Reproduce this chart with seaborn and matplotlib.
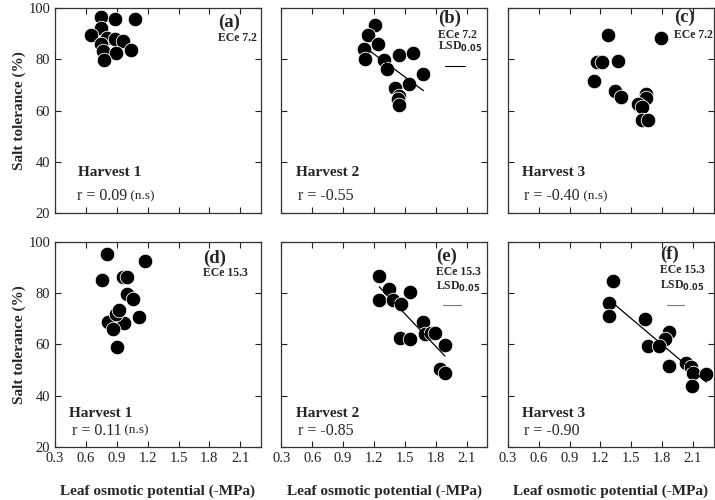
import numpy as np
import pandas as pd
import seaborn as sns
import matplotlib.pyplot as plt

# Leaf osmotic potential (-MPa) vs salt tolerance (%), per harvest and salinity
a_x = [0.75, 0.88, 1.08, 0.75, 0.65, 0.80, 0.88, 0.96, 0.75, 1.04, 0.77, 0.89, 0.78]
a_y = [96.6, 95.7, 95.6, 92.4, 89.3, 88.4, 87.8, 87.2, 86.1, 83.8, 83.1, 82.5, 79.9]

b_x = [1.21, 1.14, 1.24, 1.10, 1.11, 1.30, 1.33, 1.44, 1.58, 1.68, 1.54, 1.40, 1.44, 1.43, 1.44]
b_y = [93.3, 89.4, 86.1, 84.2, 80.3, 79.6, 76.3, 81.8, 82.6, 74.4, 70.5, 68.8, 65.9, 64.6, 62.4]

c_x = [1.27, 1.79, 1.17, 1.22, 1.37, 1.14, 1.34, 1.40, 1.64, 1.64, 1.57, 1.60, 1.60, 1.66]
c_y = [89.4, 88.5, 78.9, 78.8, 79.3, 71.5, 67.8, 65.2, 66.5, 65.0, 62.6, 61.3, 56.3, 56.3]

d_x = [0.80, 1.17, 0.76, 0.96, 1.00, 1.00, 1.06, 1.12, 0.81, 0.97, 0.86, 0.89, 0.92, 0.90]
d_y = [95.2, 92.5, 84.9, 86.2, 86.2, 79.6, 77.7, 70.6, 68.6, 68.4, 66.1, 71.6, 73.2, 59.1]

e_x = [1.25, 1.35, 1.55, 1.25, 1.38, 1.46, 1.68, 1.70, 1.75, 1.79, 1.45, 1.55, 1.89, 1.84, 1.89]
e_y = [86.7, 81.5, 80.2, 77.4, 77.4, 75.7, 68.6, 64.1, 64.5, 64.5, 62.6, 61.9, 59.7, 50.3, 48.7]

f_x = [1.32, 1.28, 1.28, 1.63, 1.87, 1.83, 1.66, 1.77, 1.87, 2.03, 2.08, 2.10, 2.23, 2.09]
f_y = [84.5, 75.9, 71.2, 69.9, 64.9, 61.9, 59.3, 59.3, 51.6, 52.6, 51.0, 49.0, 48.6, 43.7]

panel_tags = ["(a)", "(b)", "(c)", "(d)", "(e)", "(f)"]
ece = ["ECe 7.2", "ECe 7.2", "ECe 7.2", "ECe 15.3", "ECe 15.3", "ECe 15.3"]
harvests = ["Harvest 1", "Harvest 2", "Harvest 3", "Harvest 1", "Harvest 2", "Harvest 3"]
r_text = ["r = 0.09", "r = -0.55", "r = -0.40", "r = 0.11", "r = -0.85", "r = -0.90"]
signif = [True, False, True, True, False, False]
show_fit = [False, True, False, False, True, True]
lsd = [None, 0.19, None, None, 0.18, 0.16]

xs = [a_x, b_x, c_x, d_x, e_x, f_x]
ys = [a_y, b_y, c_y, d_y, e_y, f_y]

sns.set_style("ticks")
plt.rcParams["font.family"] = ["Liberation Serif", "DejaVu Serif"]
plt.rcParams["xtick.direction"] = "in"
plt.rcParams["ytick.direction"] = "in"

fig, axes = plt.subplots(2, 3, figsize=(7.15, 5), dpi=100, sharex=True, sharey=True)
fig.subplots_adjust(left=0.077, right=0.998, top=0.984, bottom=0.106,
                    wspace=0.1, hspace=0.137)

xticks = np.round(np.arange(0.3, 2.2, 0.3), 1)

# text placement per panel (axes fractions)
tag_x = [0.79, 0.76, 0.81, 0.72, 0.75, 0.74]
tag_y = [0.93, 0.95, 0.955, 0.92, 0.93, 0.94]
ece_y = [0.853, 0.87, 0.87, 0.845, 0.85, 0.86]
lsd_y = [None, 0.81, None, None, 0.78, 0.785]
bar_y = [None, 0.72, None, None, 0.69, 0.69]

for i, ax in enumerate(axes.flat):
    df = pd.DataFrame({"x": xs[i], "y": ys[i]})
    sns.scatterplot(data=df, x="x", y="y", ax=ax, s=110, color="black",
                    edgecolor="white", linewidth=0.6, zorder=3)
    if show_fit[i]:
        sns.regplot(data=df, x="x", y="y", ax=ax, scatter=False, ci=None,
                    color="black", line_kws={"lw": 0.9, "zorder": 4})

    ax.set_xlim(0.3, 2.3)
    ax.set_ylim(20, 100)
    ax.set_xticks(xticks)
    ax.set_xticklabels([f"{t:.1f}" for t in xticks])
    ax.set_yticks([20, 40, 60, 80, 100])
    ax.tick_params(top=True, right=True, length=4, width=0.8, labelsize=10.5,
                   colors="#222222")
    for sp in ax.spines.values():
        sp.set_linewidth(0.9)
        sp.set_color("#333333")
    ax.set_xlabel("")
    ax.set_ylabel("")

    top = i < 3
    tx = tag_x[i]
    ax.text(tx, tag_y[i], panel_tags[i], transform=ax.transAxes,
            fontsize=13.5, fontweight="bold", va="center", ha="left")
    ax.text(tx, ece_y[i], ece[i], transform=ax.transAxes,
            fontsize=8.5, fontweight="bold", va="center", ha="left")
    if lsd[i] is not None:
        ax.text(tx, lsd_y[i], r"LSD$_{\mathbf{0.05}}$", transform=ax.transAxes,
                fontsize=8.5, fontweight="bold", va="center", ha="left")
        x0 = 0.3 + (tx + 0.035) * 2.0
        ax.plot([x0, x0 + lsd[i]], [20 + 80 * bar_y[i]] * 2,
                color="black" if top else "#777777", lw=0.8)

    hx = 0.11 if i == 0 else 0.07
    ax.text(hx, 0.20 if top else 0.165, harvests[i], transform=ax.transAxes,
            fontsize=11, fontweight="bold", va="center", ha="left")
    rt = ax.text(hx - 0.005 if i == 0 else hx + 0.01, 0.085 if top else 0.08, r_text[i],
                 transform=ax.transAxes, fontsize=11.5, va="center", ha="left")
    if signif[i]:
        ax.annotate(" (n.s)", xycoords=rt, xy=(1, 0.5), va="center", ha="left",
                    fontsize=9.5)

for ax in axes[1]:
    ax.set_xlabel("Leaf osmotic potential (-MPa)", fontsize=11, fontweight="bold",
                  labelpad=14)
for ax in axes[:, 0]:
    ax.set_ylabel("Salt tolerance (%)", fontsize=11, fontweight="bold", labelpad=2)

plt.savefig("out.png", dpi=100)
